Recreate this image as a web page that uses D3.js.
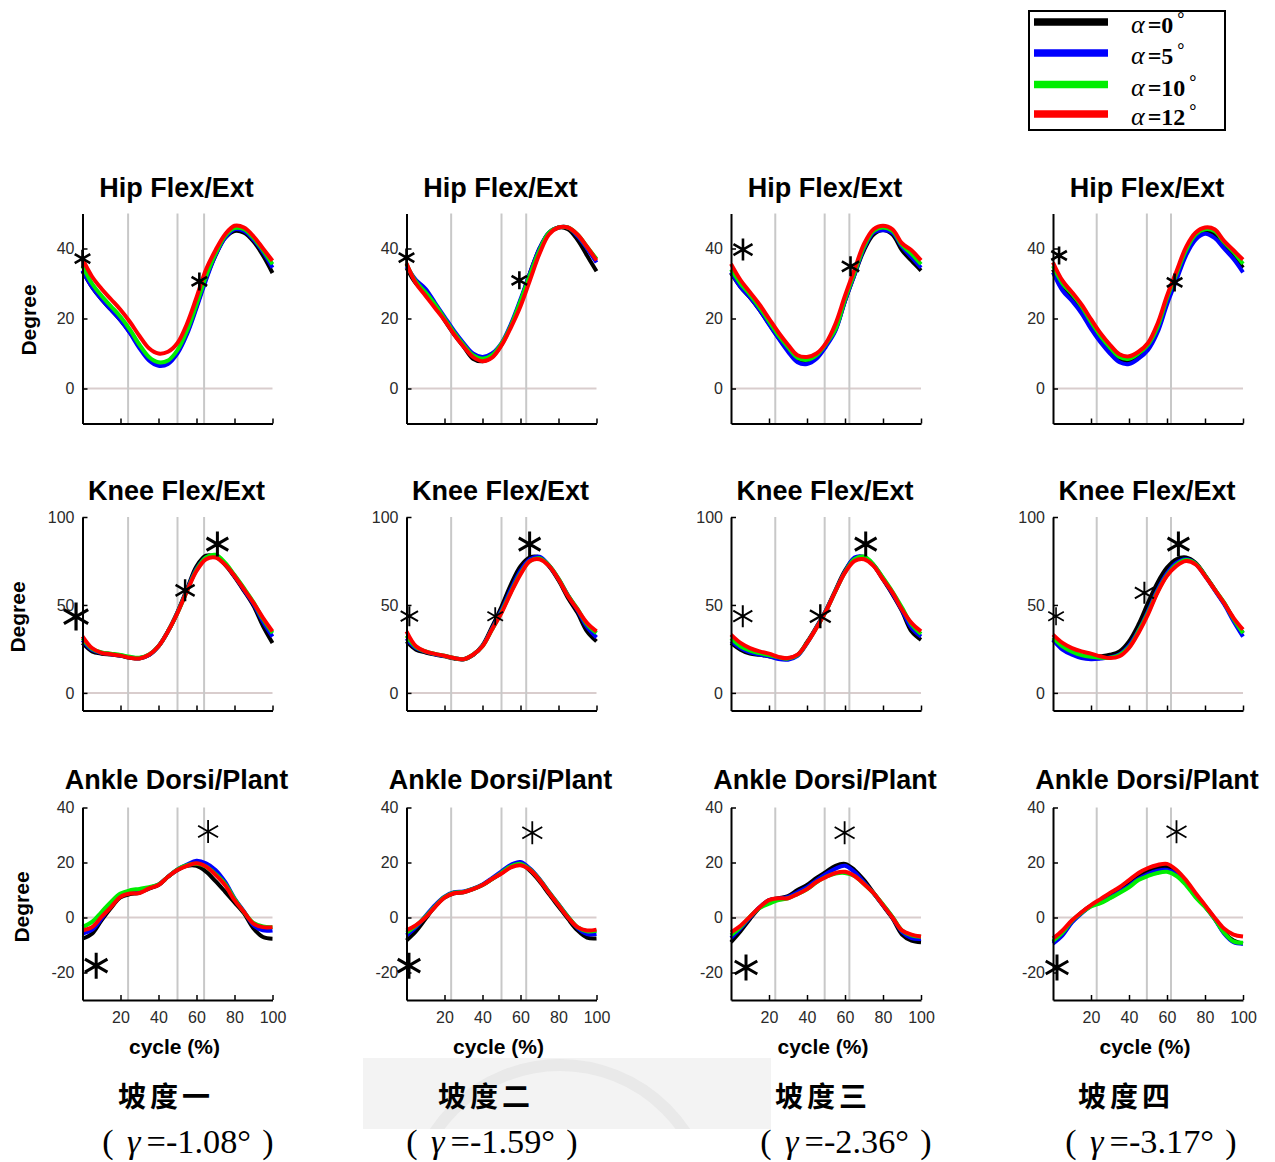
<!DOCTYPE html>
<html>
<head>
<meta charset="utf-8">
<script src="https://cdnjs.cloudflare.com/ajax/libs/d3/7.8.5/d3.min.js"></script>
<style>
  body { margin: 0; background: #fff; }
  svg { display: block; }
</style>
</head>
<body>
<svg id="chart" width="1275" height="1162"></svg>
<script>
// ---------------------------------------------------------------
// Data: joint angles (degrees) over the gait cycle (%), four
// tilt angles α per ramp slope.  Series order in every block:
// α = 0°, 5°, 10°, 12°.
// ---------------------------------------------------------------
const cycle = [0, 5, 10, 15, 20, 25, 30, 35, 40, 45, 50, 55, 60, 65, 70, 75, 80, 85, 90, 95, 100];
const alphaNames = ["0", "5", "10", "12"];
const slopeNames = ["坡度一", "坡度二", "坡度三", "坡度四"];
const slopeGammas = ["-1.08", "-1.59", "-2.36", "-3.17"];
const jointTitles = ["Hip Flex/Ext", "Knee Flex/Ext", "Ankle Dorsi/Plant"];
const hipTicks = [0, 20, 40];
const kneeTicks = [0, 50, 100];
const ankleTicks = [-20, 0, 20, 40];
const cycleTicks = [20, 40, 60, 80, 100];

// gait-event boundaries (% cycle) for each slope
const gaitEvents = [[24, 50, 64], [23.5, 50, 63], [23.3, 49.3, 62.3], [23, 49.4, 62.1]];

// Hip flexion / extension
const hipSlope1 = [
  [33.5, 29, 25.5, 22.5, 19.5, 16, 12, 8.5, 7, 7.5, 10.5, 16, 23.5, 31.5, 38, 43, 45, 44.5, 42, 38, 33],
  [33.8, 29, 25.5, 22.5, 19.5, 15.8, 11.5, 8, 6.5, 7, 10, 15.5, 23, 31, 38, 43, 45.5, 45, 42.5, 39, 34.5],
  [35, 30, 26.5, 23.5, 20.5, 16.8, 12.5, 9, 7.5, 8, 11, 16.5, 24, 32, 38.5, 43.5, 45.8, 45.5, 43, 39.5, 35.5],
  [37, 32, 28.5, 25.5, 22.5, 19, 15, 11.5, 10, 10.5, 13, 18.5, 26, 34, 39.5, 44, 46.5, 46, 43.5, 40, 36.5]
];
const hipSlope2 = [
  [34.5, 30, 27.5, 24, 19.5, 15.5, 12, 8.5, 7.8, 9, 12.5, 18, 25, 33, 40, 44.5, 46, 45.5, 42.5, 38, 33.5],
  [35, 31, 28.5, 24.5, 20.5, 16.5, 13, 10, 9, 10, 13, 18.5, 25.5, 33, 40, 44.5, 46, 46, 43.5, 40, 36],
  [35.5, 30.5, 27.5, 24, 20, 16, 12.5, 9.5, 8.5, 9.5, 12.8, 18, 25, 32.5, 39.5, 44.5, 46, 46, 44, 40.5, 37],
  [35.8, 30, 26.5, 23, 19.5, 15.5, 12, 9, 7.8, 8.8, 12.3, 17.5, 23.5, 31, 38.5, 44, 46, 46, 44, 40.5, 36.6]
];
const hipSlope3 = [
  [33, 29, 26, 22.5, 18.5, 14.5, 11, 8, 7.3, 9, 12.5, 16.8, 25, 32.5, 39.5, 44, 45.3, 44, 39.5, 36.5, 33.7],
  [33.2, 29, 26, 22.5, 18.3, 14.3, 10.5, 7.5, 7, 8.5, 12, 16.5, 25, 32.5, 40, 44.5, 45.2, 44.5, 40.5, 37.5, 34.5],
  [34, 30, 26.8, 23.2, 19.2, 15.2, 11.8, 8.8, 8.2, 9.5, 12.8, 17, 25.5, 33, 40.5, 45, 46, 45, 41, 38.5, 35.5],
  [35.6, 31, 27.5, 24, 20, 16, 12.5, 9.5, 9, 10, 13, 18.5, 26.5, 34, 41.3, 45.5, 46.5, 45.5, 41.5, 39.5, 36.6]
];
const hipSlope4 = [
  [34, 29, 26, 22.5, 18, 14, 10.8, 8.2, 7.8, 9.2, 11.8, 16.8, 25, 32, 38.8, 43.2, 45, 44, 41, 38, 34.5],
  [33.2, 28, 25, 21.5, 17, 13.2, 10, 7.5, 7, 8.5, 11, 16, 24, 31, 38, 42.5, 44.2, 43, 40, 37, 33.2],
  [35, 30, 27, 23.5, 19, 15, 11.7, 9, 8.5, 10, 12.5, 17.5, 25.8, 32.8, 39.5, 44, 45.5, 45, 41.8, 39, 35.6],
  [36, 30.8, 27.5, 24, 19.8, 15.8, 12.5, 9.8, 9.2, 10.5, 13, 18.5, 26.5, 33.5, 40.4, 44.5, 46, 45.5, 42.2, 39.5, 36.8]
];

// Knee flexion / extension
const kneeSlope1 = [
  [28.4, 23.6, 22.3, 21.8, 21.1, 20, 19.6, 21.5, 26.5, 35, 46, 59, 72, 78, 77.5, 73, 66, 58, 49.5, 38, 28.4],
  [30, 24.5, 22.8, 22, 21.3, 20.2, 19.8, 21.5, 26.5, 35, 45.8, 58.5, 70.5, 77, 77.8, 73.5, 66.5, 58.5, 50.5, 40.5, 32],
  [31, 25, 23, 22.3, 21.6, 20.5, 20, 21.8, 26.5, 35, 45.5, 58, 70, 77, 78.5, 74, 67, 59.5, 51.5, 42, 34],
  [32.2, 25.5, 22.8, 22, 21.2, 20, 19.6, 21.7, 26.5, 35, 45.5, 57.9, 69.3, 76, 77, 73, 66.5, 58.9, 51.2, 42.7, 35]
];
const kneeSlope2 = [
  [29.3, 24.6, 23, 21.8, 20.8, 19.6, 19, 21.5, 27, 37.5, 49, 61.7, 72, 77, 77, 72, 64, 54, 45.5, 35, 29.3],
  [31, 25.5, 23.5, 22, 21, 19.8, 19.2, 21.6, 26.8, 36.5, 47, 59, 69.5, 76, 77.5, 72.5, 64.8, 55.5, 47, 37.5, 31.5],
  [32.5, 26, 23.6, 22.2, 21.1, 19.8, 19.2, 21.7, 26.5, 36, 46, 57.5, 68, 75, 76.5, 72.5, 65, 55.5, 47.8, 39, 34],
  [35, 26.5, 23.6, 22.2, 21.1, 19.8, 19.2, 21.7, 26.5, 36, 45.5, 57, 67.4, 75, 76, 72.2, 64.6, 55, 47.4, 39.8, 35]
];
const kneeSlope3 = [
  [28.4, 24.6, 22.3, 21.7, 20.8, 20, 19.6, 21.5, 28.8, 37.5, 47, 58.5, 69.5, 76.5, 77, 72.5, 64.5, 56, 46.5, 35, 30.2],
  [29.5, 25.5, 23, 21.8, 20.8, 19.2, 18.9, 21, 28.2, 37.3, 46.8, 58, 69, 77, 77.3, 72.8, 65, 56.5, 47, 37, 32],
  [31, 26.5, 24, 22.6, 21.5, 20.2, 19.5, 21.5, 28.4, 37, 46.5, 57.9, 68.6, 76, 77.5, 73, 65.5, 57.5, 48.5, 39, 33.5],
  [33.1, 28.4, 25.5, 23.6, 22.3, 20.4, 19.8, 21.7, 28.4, 37, 46.5, 57.9, 68.4, 75, 76, 72.2, 64.6, 57, 47.4, 39.8, 35]
];
const kneeSlope4 = [
  [30, 25.5, 23, 21, 20.3, 20.8, 21.7, 23.6, 29.3, 38.9, 51.2, 62.7, 71.2, 76, 77, 74, 67, 59, 51, 42, 34],
  [30.3, 24.6, 21.7, 19.8, 19.2, 19.5, 20.2, 22, 27, 35.5, 46.5, 58.5, 68, 74, 76, 73.5, 66.5, 58.5, 50.5, 40.8, 32],
  [31.5, 26.5, 23.5, 21.5, 20.5, 20, 20, 21.5, 26, 35, 45.5, 57.5, 67, 73, 75.5, 73.5, 66.8, 59, 51.5, 42, 34],
  [33.1, 28.4, 25.5, 23.6, 22.3, 20.8, 19.8, 20.8, 25.5, 34.1, 44.6, 57, 66.5, 72.2, 75, 73.1, 66.5, 58.9, 51.2, 42.7, 36]
];

// Ankle dorsiflexion / plantarflexion
const ankleSlope1 = [
  [-7.7, -5.9, -1, 3.5, 7.3, 8.5, 9, 10.5, 11.8, 14.8, 17.3, 18.8, 18.8, 16.7, 13.2, 9.4, 5.5, 1.5, -4, -7.1, -7.7],
  [-5.8, -4.5, -0.5, 4.5, 8, 9.3, 9.6, 10.8, 12, 14.8, 17.5, 19.2, 20.6, 19.7, 17.3, 13, 7, 2.2, -2.8, -4.7, -4.7],
  [-3.5, -1.6, 2, 5.7, 8.7, 9.9, 10.4, 11, 12, 14.8, 17.5, 19, 19.5, 18.5, 15.8, 12.3, 6.8, 2, -2, -3.3, -3.5],
  [-4.7, -3.5, 0.2, 3.8, 7.5, 8.7, 8.9, 10.6, 11.8, 14.8, 17.3, 18.8, 19.7, 18.5, 15.5, 11.8, 6.3, 2, -2.2, -3.5, -3.5]
];
const ankleSlope2 = [
  [-8.4, -5, -0.5, 4, 7.2, 8.8, 9.2, 10.3, 11.8, 14, 16.2, 18.5, 19.5, 17, 13.2, 8.5, 4, -0.5, -4.7, -7.3, -7.6],
  [-6.5, -3.5, 0.5, 4.5, 7.6, 9.2, 9.5, 10.5, 12, 14.3, 16.8, 19.2, 20.2, 17.8, 14, 9.3, 4.8, 0.3, -3.8, -6, -6],
  [-5.5, -3, 0.3, 4, 7.4, 9, 9.3, 10.4, 11.8, 14, 16.3, 18.6, 19.5, 17.5, 13.8, 9.2, 4.7, 0.3, -3.5, -5, -4.8],
  [-4.7, -2.8, 0, 3.8, 7.2, 8.8, 9.2, 10.3, 11.8, 14, 16, 18.2, 19, 17.3, 13.6, 9, 4.5, 0, -3.5, -4.7, -4.4]
];
const ankleSlope3 = [
  [-9, -5, -0.5, 3.5, 6.3, 7, 7.8, 10, 11.8, 14.4, 16.6, 18.8, 19.5, 17.3, 13.6, 9, 4.3, -0.3, -6.2, -8.4, -9],
  [-7.5, -4, 0, 3.7, 6.2, 6.8, 7.5, 9.2, 11, 13.5, 15.8, 17.8, 18.8, 16.5, 12.8, 8.8, 4.5, 0, -5.2, -7.5, -7.8],
  [-6.5, -3.5, 0.3, 3.4, 5, 6.3, 7, 8.5, 10.3, 12.8, 14.8, 16, 16.2, 15.1, 12.2, 8.9, 4.7, 0.2, -4.7, -6.5, -7],
  [-5.4, -3, 0.3, 3.7, 6.3, 7, 7, 8.5, 10.3, 12.9, 14.7, 16.2, 16.6, 15.1, 12.2, 8.9, 4.5, 0, -4.7, -6.2, -6.9]
];
const ankleSlope4 = [
  [-9, -6, -1.5, 1.8, 4.3, 5.7, 7.5, 9.8, 12.3, 15, 17, 18.2, 18.4, 16.5, 12.8, 8.3, 4.2, -0.3, -5.4, -8.4, -9.5],
  [-9.5, -6.5, -1.8, 1.5, 4.2, 5.5, 7.2, 9.3, 11.5, 14, 15.8, 17, 17.3, 15.8, 12.3, 7.8, 4, -0.5, -5.8, -9, -9.5],
  [-8.5, -5.5, -1.2, 1.7, 4, 5.2, 7, 8.9, 11, 13.6, 15.1, 16.2, 16.6, 15.1, 11.8, 7.4, 3.8, -0.5, -5.5, -8.7, -9.2],
  [-7.6, -4.7, -1, 1.9, 4.5, 6.7, 8.9, 11, 13.6, 16.2, 18, 19.1, 19.5, 17.3, 13.6, 8.9, 4.5, 0, -4, -6.2, -6.9]
];

// significance markers: [cycle %, degree]
const hipMarks = [
  [[0, 37.1], [61.5, 30.6]],
  [[0, 37.4], [59.4, 30.9]],
  [[6.3, 39.7], [62.9, 34.9]],
  [[3.2, 38], [64, 30.3]]
];
const kneeMarks = [
  [[-3.4, 43.4], [54, 58.3], [71, 84.6]],
  [[1.5, 43.6], [46.7, 43.6], [64.8, 84.6]],
  [[6.2, 43.6], [47, 43.6], [70.9, 84.6]],
  [[1.6, 43.6], [48.1, 56.9], [66, 84.6]]
];
const ankleMarks = [
  [[7.2, -17.5], [66.1, 31.3]],
  [[1.3, -17.5], [66.2, 30.8]],
  [[7.9, -18.2], [59.8, 30.8]],
  [[2.1, -18.2], [65, 31.2]]
];

// ---------------------------------------------------------------
// Drawing
// ---------------------------------------------------------------
const svg = d3.select("#chart");
const seriesColors = ["#000000", "#0000ff", "#00ee00", "#ff0000"];
const sansFont = "'Liberation Sans', Arial, Helvetica, sans-serif";
const serifFont = "'Liberation Serif', 'Times New Roman', serif";
const cjkFont = "'Noto Sans CJK TC', 'Noto Sans CJK SC', sans-serif";

const colLeft = [82.5, 406.5, 731, 1053];
const plotW = 190;

// marker glyph sizes: [radius, stroke width]
const hipMarkSize = [[[9, 2.6], [9, 2.6]], [[9, 2.6], [9, 2.6]], [[11, 2.6], [10, 2.6]], [[9, 2.6], [9, 2.6]]];
const kneeMarkSize = [
  [[14, 3.2], [11, 2.4], [12.5, 3]],
  [[10, 2], [9, 1.8], [12.5, 3]],
  [[11, 2], [12, 2.4], [12.5, 3]],
  [[9, 1.6], [11, 2], [12.5, 3]]
];
const ankleMarkSize = [[13, 3], [11.5, 1.8]];

const rows = [
  { title: jointTitles[0], domain: [-10, 50], top: 213.5, bottom: 423.5, ticks: hipTicks,
    data: [hipSlope1, hipSlope2, hipSlope3, hipSlope4], marks: hipMarks,
    sizes: (c, i) => hipMarkSize[c][i], titleY: 197, degX: 29, degY: 320 },
  { title: jointTitles[1], domain: [-10, 100], top: 517, bottom: 710.5, ticks: kneeTicks,
    data: [kneeSlope1, kneeSlope2, kneeSlope3, kneeSlope4], marks: kneeMarks,
    sizes: (c, i) => kneeMarkSize[c][i], titleY: 500, degX: 18, degY: 617 },
  { title: jointTitles[2], domain: [-30, 40], top: 807.5, bottom: 1000, ticks: ankleTicks,
    data: [ankleSlope1, ankleSlope2, ankleSlope3, ankleSlope4], marks: ankleMarks,
    sizes: (c, i) => ankleMarkSize[i], titleY: 789, degX: 22, degY: 907 }
];

function asteriskPath(cx, cy, r) {
  const dx = r * Math.cos(Math.PI / 6), dy = r * Math.sin(Math.PI / 6);
  return `M${cx},${cy - r}L${cx},${cy + r}` +
         `M${cx - dx},${cy - dy}L${cx + dx},${cy + dy}` +
         `M${cx - dx},${cy + dy}L${cx + dx},${cy - dy}`;
}

// faint seal watermark behind the slope captions
const wm = svg.append("g");
wm.append("rect").attr("x", 363).attr("y", 1058).attr("width", 408).attr("height", 71).attr("fill", "#f3f3f3");
wm.append("clipPath").attr("id", "wmclip").append("rect")
  .attr("x", 363).attr("y", 1058).attr("width", 408).attr("height", 71);
wm.append("circle").attr("cx", 560).attr("cy", 1215).attr("r", 150)
  .attr("fill", "none").attr("stroke", "#e9e9e9").attr("stroke-width", 12)
  .attr("clip-path", "url(#wmclip)");

rows.forEach((row, r) => {
  colLeft.forEach((x0, c) => {
    const x = d3.scaleLinear().domain([0, 100]).range([x0, x0 + plotW]);
    const y = d3.scaleLinear().domain(row.domain).range([row.bottom, row.top]);
    const g = svg.append("g");

    // zero reference line
    g.append("line")
      .attr("x1", x(0)).attr("x2", x(100))
      .attr("y1", y(0)).attr("y2", y(0))
      .attr("stroke", "#d9cdcd").attr("stroke-width", 2);

    // gait-event lines
    g.selectAll("line.event").data(gaitEvents[c]).join("line")
      .attr("class", "event")
      .attr("x1", d => x(d)).attr("x2", d => x(d))
      .attr("y1", row.top).attr("y2", row.bottom)
      .attr("stroke", "#c8c8c8").attr("stroke-width", 2);

    // curves
    const line = d3.line()
      .x((d, i) => x(cycle[i]))
      .y(d => y(d))
      .curve(d3.curveCatmullRom.alpha(0.5));
    g.selectAll("path.series").data(row.data[c]).join("path")
      .attr("class", "series")
      .attr("d", line)
      .attr("fill", "none")
      .attr("stroke", (d, i) => seriesColors[i])
      .attr("stroke-width", 4)
      .attr("stroke-linejoin", "round");

    // axes
    const plain = d => String(d);
    const yAxis = d3.axisLeft(y).tickValues(row.ticks).tickSizeInner(-5).tickSizeOuter(0).tickPadding(8)
      .tickFormat(plain);
    const xAxis = d3.axisBottom(x).tickValues(cycleTicks).tickSizeInner(-5).tickSizeOuter(0).tickPadding(12)
      .tickFormat(r === 2 ? plain : () => "");
    const ya = g.append("g").attr("transform", `translate(${x0},0)`).call(yAxis);
    const xa = g.append("g").attr("transform", `translate(0,${row.bottom})`).call(xAxis);
    [ya, xa].forEach(a => {
      a.select(".domain").attr("stroke", "#000").attr("stroke-width", 2);
      a.selectAll(".tick line").attr("stroke", "#000").attr("stroke-width", 1.5);
      a.selectAll(".tick text").attr("fill", "#2a2a2a").style("font-family", sansFont).style("font-size", "16px");
    });

    // markers
    g.selectAll("path.mark").data(row.marks[c]).join("path")
      .attr("class", "mark")
      .attr("d", (d, i) => asteriskPath(x(d[0]), y(d[1]), row.sizes(c, i)[0]))
      .attr("stroke", "#000")
      .attr("stroke-width", (d, i) => row.sizes(c, i)[1])
      .attr("fill", "none");

    // title
    g.append("text")
      .attr("x", x0 + plotW / 2 - 1).attr("y", row.titleY)
      .attr("text-anchor", "middle")
      .style("font-family", sansFont).style("font-weight", "bold").style("font-size", "27px")
      .attr("fill", "#000")
      .text(row.title);

    if (c === 0) {
      g.append("text")
        .attr("transform", `translate(${row.degX},${row.degY}) rotate(-90)`)
        .attr("text-anchor", "middle").attr("dy", "0.35em")
        .style("font-family", sansFont).style("font-weight", "bold").style("font-size", "21px")
        .attr("fill", "#000")
        .text("Degree");
    }
    if (r === 2) {
      g.append("text")
        .attr("x", x0 + plotW / 2 - 3).attr("y", 1054)
        .attr("text-anchor", "middle")
        .style("font-family", sansFont).style("font-weight", "bold").style("font-size", "21px")
        .attr("fill", "#000")
        .text("cycle (%)");
    }
  });
});

// slope captions
const capLine1 = [164, 484, 821, 1124];
const capLine2 = [188, 492, 846, 1151];
slopeNames.forEach((name, i) => {
  svg.append("text")
    .attr("x", capLine1[i]).attr("y", 1107)
    .attr("text-anchor", "middle")
    .attr("textLength", 92).attr("lengthAdjust", "spacing")
    .style("font-family", cjkFont).style("font-weight", "bold").style("font-size", "28px")
    .attr("fill", "#000")
    .text(name);

  const cx = capLine2[i];
  const capStyle = sel => sel.attr("y", 1153).attr("text-anchor", "middle")
    .style("font-family", serifFont).style("font-size", "34px").attr("fill", "#000");
  svg.append("text").call(capStyle).attr("x", cx - 80).text("(");
  svg.append("text").call(capStyle).attr("x", cx + 80).text(")");
  const mid = svg.append("text").call(capStyle).attr("x", cx + 1)
    .attr("textLength", 124).attr("lengthAdjust", "spacingAndGlyphs");
  mid.append("tspan").style("font-style", "italic").text("γ");
  mid.append("tspan").attr("dx", 6).text(`=${slopeGammas[i]}°`);
});

// legend
const lg = svg.append("g");
lg.append("rect").attr("x", 1029).attr("y", 11).attr("width", 196).attr("height", 119)
  .attr("fill", "#fff").attr("stroke", "#000").attr("stroke-width", 2);
const legendY = [22, 53, 84.5, 114];
alphaNames.forEach((a, i) => {
  lg.append("line")
    .attr("x1", 1034).attr("x2", 1108)
    .attr("y1", legendY[i]).attr("y2", legendY[i])
    .attr("stroke", seriesColors[i]).attr("stroke-width", 7.5);
  const t = lg.append("text")
    .attr("x", 1131).attr("y", legendY[i] + 11)
    .style("font-family", serifFont).style("font-size", "24px")
    .attr("fill", "#000");
  t.append("tspan").style("font-style", "italic").style("font-size", "26px").text("α");
  t.append("tspan").attr("dx", 3).style("font-weight", "bold").text("=" + a);
  t.append("tspan").style("font-weight", "bold").style("font-size", "18px")
    .attr("dx", 4).attr("dy", -8).text("°");
});
</script>
</body>
</html>
